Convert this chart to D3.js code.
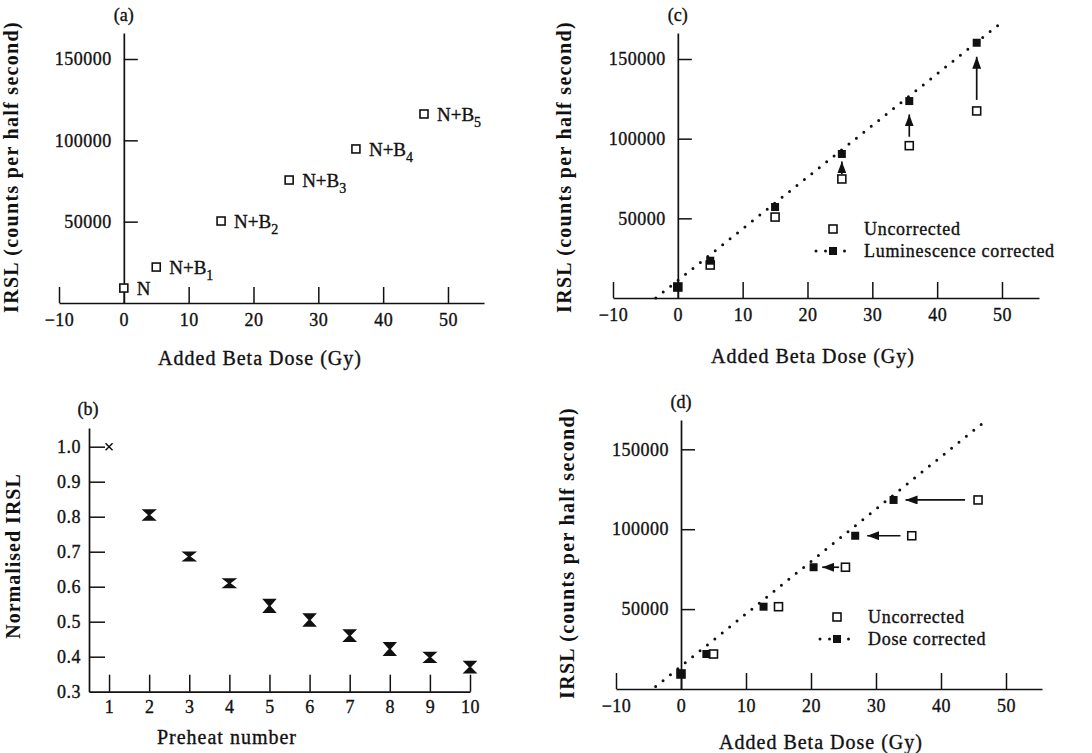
<!DOCTYPE html>
<html lang="en">
<head>
    <meta charset="UTF-8">
    <title>IRSL dose response and preheat correction</title>
    <script src="https://d3js.org/d3.v7.min.js"></script>
    <style>
        body { margin: 0; background: #fff; }
        text { font-family: "Liberation Serif", "Times New Roman", serif; fill: #111; }
        .heavy { stroke: #111; stroke-width: 0.35px; }
    </style>
</head>
<body>
    <svg id="fig" width="1092" height="753"></svg>

    <script>
        // ---- data ----
        // (a) natural + added beta doses
        const doseA = [0, 5, 15, 25.5, 35.8, 46.3];
        const irslA = [9200, 22100, 50400, 75600, 94700, 116200];
        const subsA = ["", "1", "2", "3", "4", "5"];

        // (b) normalised IRSL after each preheat
        const preheat = [1, 2, 3, 4, 5, 6, 7, 8, 9, 10];
        const normIrsl = [1.0, 0.805, 0.686, 0.61, 0.545, 0.505, 0.46, 0.422, 0.398, 0.37];
        const normErr = [0, 0.014, 0.012, 0.012, 0.018, 0.017, 0.016, 0.018, 0.014, 0.016];

        // (c) luminescence correction
        const doseC = [0, 5, 15, 25.3, 35.7, 46.1];
        const uncorrC = [6900, 20700, 50800, 74700, 95600, 117400];
        const lumCorrC = [6900, 23400, 57100, 90400, 123600, 160200];
        const fitC = [[-3.4, 0], [49.9, 172800]];

        // (d) dose correction
        const doseD = [0, 5, 15, 25.3, 35.5, 45.7];
        const uncorrD = [9400, 21900, 51500, 76200, 95900, 118300];
        const doseCorrD = [0, 3.9, 12.7, 20.4, 26.8, 32.7];
        const fitD = [[-3.9, 1500], [46.7, 167300]];

        const doseTicks = [-10, 0, 10, 20, 30, 40, 50];
        const irslTicks = [50000, 100000, 150000];
        const normTicks = [0.3, 0.4, 0.5, 0.6, 0.7, 0.8, 0.9, 1.0];

        const ink = "#111";
        const svg = d3.select("#fig");

        svg.append("defs").append("marker")
            .attr("id", "arrow")
            .attr("markerUnits", "userSpaceOnUse")
            .attr("viewBox", "0 0 12 9")
            .attr("refX", 12).attr("refY", 4.5)
            .attr("markerWidth", 12).attr("markerHeight", 9)
            .attr("orient", "auto")
            .append("path").attr("d", "M0,0 L12,4.5 L0,9 Z").attr("fill", ink);

        function styleAxis(g) {
            g.select(".domain").attr("stroke", ink).attr("stroke-width", 1.7);
            g.selectAll(".tick line").attr("stroke", ink).attr("stroke-width", 1.5);
            g.selectAll(".tick text")
                .attr("fill", ink)
                .attr("class", "heavy")
                .style("font-family", '"Liberation Serif", serif')
                .style("font-size", "18px")
                .style("letter-spacing", "0.5px");
        }

        // frame of an "IRSL vs added dose" panel, in pixels
        function dosePanel(f) {
            const xMax = -10 + (f.right - f.left) / f.unit;
            const x = d3.scaleLinear().domain([-10, xMax]).range([f.left, f.right]);
            const y = d3.scaleLinear().domain([0, 150000]).range([f.base, f.y150]);
            const g = svg.append("g");

            g.append("g")
                .attr("transform", `translate(0,${f.base})`)
                .call(d3.axisBottom(x).tickValues(doseTicks).tickSize(-16).tickSizeOuter(0).tickPadding(10))
                .call(styleAxis);

            g.append("g")
                .attr("transform", `translate(${x(0)},0)`)
                .call(d3.axisLeft(y.copy().domain([0, y.invert(f.top)]).range([f.base, f.top]))
                    .tickValues(irslTicks).tickFormat(d3.format("d")).tickSize(-14).tickSizeOuter(0).tickPadding(12))
                .call(styleAxis);

            g.append("text")
                .attr("class", "heavy")
                .attr("x", x(0)).attr("y", f.top - 12)
                .attr("text-anchor", "middle")
                .style("font-size", "18px")
                .text(f.tag);

            g.append("text")
                .attr("transform", `translate(${f.yLabelX},${f.yLabelY}) rotate(-90)`)
                .attr("text-anchor", "middle")
                .style("font-size", "20px").style("font-weight", "bold")
                .style("letter-spacing", "1.3px")
                .text("IRSL (counts per half second)");

            g.append("text")
                .attr("class", "heavy")
                .attr("x", f.xLabelX).attr("y", f.xLabelY)
                .attr("text-anchor", "middle").attr("dy", "0.35em")
                .style("font-size", "20px").style("letter-spacing", "1px")
                .text("Added Beta Dose (Gy)");

            return { g, x, y };
        }

        function openSquares(g, pts) {
            g.selectAll(null).data(pts).enter().append("rect")
                .attr("x", d => d[0] - 4).attr("y", d => d[1] - 4)
                .attr("width", 8).attr("height", 8)
                .attr("fill", "#fff").attr("stroke", ink).attr("stroke-width", 1.6);
        }
        function filledSquares(g, pts) {
            g.selectAll(null).data(pts).enter().append("rect")
                .attr("x", d => d[0] - 4).attr("y", d => d[1] - 4)
                .attr("width", 8).attr("height", 8)
                .attr("fill", ink);
        }
        function dotted(g, pts) {
            g.append("path")
                .attr("d", d3.line()(pts))
                .attr("fill", "none").attr("stroke", ink)
                .attr("stroke-width", 3).attr("stroke-linecap", "round")
                .attr("stroke-dasharray", "0 9.5");
        }
        function legend(g, lx, ly, label2) {
            openSquares(g, [[lx, ly]]);
            g.append("text").attr("class", "heavy").attr("x", lx + 31).attr("y", ly).attr("dy", "0.35em")
                .style("font-size", "18px").style("letter-spacing", "0.7px").text("Uncorrected");
            dotted(g, [[lx - 17, ly + 22], [lx + 19, ly + 22]]);
            filledSquares(g, [[lx, ly + 22]]);
            g.append("text").attr("class", "heavy").attr("x", lx + 31).attr("y", ly + 22).attr("dy", "0.35em")
                .style("font-size", "18px").style("letter-spacing", "0.7px").text(label2);
        }

        // ---- (a) ----
        const A = dosePanel({ left: 59, unit: 6.483, right: 484, base: 303, y150: 59, top: 33,
            tag: "(a)", yLabelX: 18, yLabelY: 167, xLabelX: 260, xLabelY: 358 });
        const ptsA = doseA.map((d, i) => [A.x(d), A.y(irslA[i])]);
        openSquares(A.g, ptsA);
        A.g.selectAll(null).data(ptsA).enter().append("text")
            .attr("class", "heavy")
            .attr("x", d => d[0] + 13).attr("y", d => d[1]).attr("dy", "0.35em")
            .style("font-size", "19px")
            .each(function (d, i) {
                const t = d3.select(this);
                if (subsA[i] === "") { t.text("N"); return; }
                t.append("tspan").text("N+B");
                t.append("tspan").attr("dy", 6).style("font-size", "14px").text(subsA[i]);
            });

        // ---- (c) ----
        const C = dosePanel({ left: 613, unit: 6.483, right: 1039, base: 298, y150: 59, top: 33,
            tag: "(c)", yLabelX: 571, yLabelY: 167, xLabelX: 813, xLabelY: 356 });
        dotted(C.g, fitC.map(p => [C.x(p[0]), C.y(p[1])]));
        const openC = doseC.map((d, i) => [C.x(d), C.y(uncorrC[i])]);
        const corrC = doseC.map((d, i) => [C.x(d), C.y(lumCorrC[i])]);
        openSquares(C.g, openC);
        filledSquares(C.g, corrC);
        openC.forEach((p, i) => {
            const dist = p[1] - corrC[i][1];
            if (dist < 18) return;
            C.g.append("line")
                .attr("x1", p[0]).attr("y1", p[1] - Math.min(11, dist * 0.2))
                .attr("x2", p[0]).attr("y2", corrC[i][1] + Math.min(14, dist * 0.3))
                .attr("stroke", ink).attr("stroke-width", 1.7)
                .attr("marker-end", "url(#arrow)");
        });
        legend(C.g, 833, 229, "Luminescence corrected");

        // ---- (d) ----
        const D = dosePanel({ left: 616, unit: 6.5, right: 1042, base: 689, y150: 449.3, top: 420,
            tag: "(d)", yLabelX: 574, yLabelY: 553, xLabelX: 821, xLabelY: 742 });
        dotted(D.g, fitD.map(p => [D.x(p[0]), D.y(p[1])]));
        const openD = doseD.map((d, i) => [D.x(d), D.y(uncorrD[i])]);
        const corrD = doseCorrD.map((d, i) => [D.x(d), D.y(uncorrD[i])]);
        openSquares(D.g, openD);
        filledSquares(D.g, corrD);
        openD.forEach((p, i) => {
            const dist = p[0] - corrD[i][0];
            if (dist < 18) return;
            D.g.append("line")
                .attr("x1", p[0] - Math.min(13, dist * 0.2)).attr("y1", p[1])
                .attr("x2", corrD[i][0] + Math.min(12, dist * 0.27)).attr("y2", p[1])
                .attr("stroke", ink).attr("stroke-width", 1.7)
                .attr("marker-end", "url(#arrow)");
        });
        legend(D.g, 837, 617, "Dose corrected");

        // ---- (b) ----
        const xb = d3.scaleLinear().domain([0.5, 10]).range([89, 470]);
        const yb = d3.scaleLinear().domain([0.3, 1.0]).range([691.7, 446.7]);
        const B = svg.append("g");
        B.append("g")
            .attr("transform", "translate(0,691.7)")
            .call(d3.axisBottom(xb).tickValues(preheat).tickSize(-17).tickSizeOuter(0).tickPadding(9))
            .call(styleAxis);
        const yAxisB = B.append("g")
            .attr("transform", `translate(${xb(0.5)},0)`)
            .call(d3.axisLeft(yb.copy().domain([0.3, yb.invert(428)]).range([691.7, 428]))
                .tickValues(normTicks).tickFormat(d3.format(".1f")).tickSize(-16).tickSizeOuter(0).tickPadding(8))
            .call(styleAxis);
        yAxisB.selectAll(".tick line").filter(d => d === 0.3).remove();

        B.append("text").attr("class", "heavy").attr("x", 88).attr("y", 409).attr("dy", "0.35em")
            .attr("text-anchor", "middle").style("font-size", "18px").text("(b)");
        B.append("text")
            .attr("transform", "translate(20,556) rotate(-90)")
            .attr("text-anchor", "middle")
            .style("font-size", "20px").style("font-weight", "bold").style("letter-spacing", "1px")
            .text("Normalised IRSL");
        B.append("text")
            .attr("class", "heavy")
            .attr("x", 227).attr("y", 737).attr("dy", "0.35em")
            .attr("text-anchor", "middle")
            .style("font-size", "20px").style("letter-spacing", "1px")
            .text("Preheat number");

        preheat.forEach((p, i) => {
            const cx = xb(p), cy = yb(normIrsl[i]);
            if (normErr[i] === 0) {
                B.append("path")
                    .attr("d", `M${cx - 3.5},${cy - 3.5}L${cx + 3.5},${cy + 3.5}M${cx - 3.5},${cy + 3.5}L${cx + 3.5},${cy - 3.5}`)
                    .attr("stroke", ink).attr("stroke-width", 1.5);
                return;
            }
            const t = yb(normIrsl[i] + normErr[i]), b = yb(normIrsl[i] - normErr[i]), w = 5.5;
            B.append("path")
                .attr("d", `M${cx - w},${t}H${cx + w}L${cx - w},${b}H${cx + w}Z`)
                .attr("fill", ink).attr("stroke", ink).attr("stroke-width", 1.6)
                .attr("stroke-linejoin", "miter");
        });
    </script>
</body>
</html>
